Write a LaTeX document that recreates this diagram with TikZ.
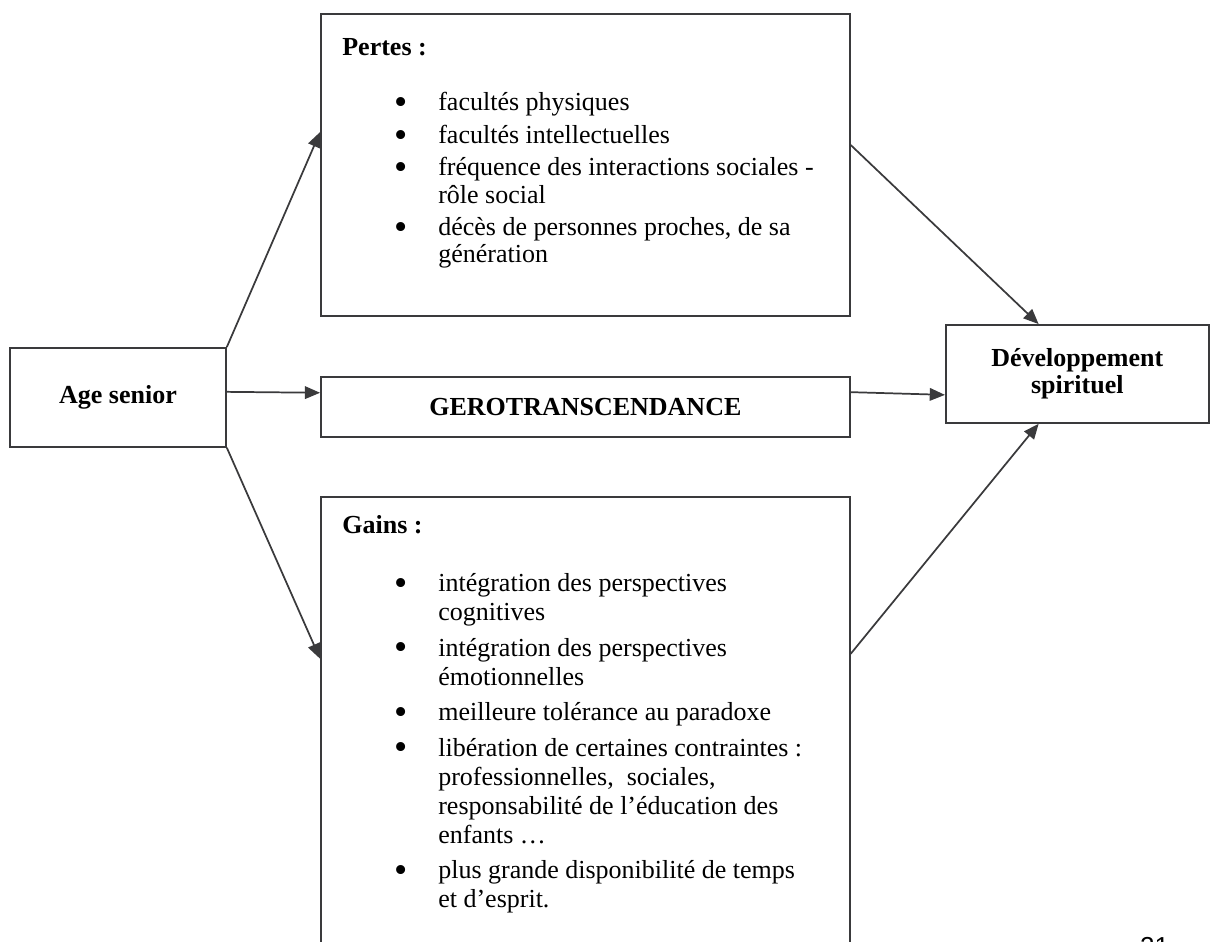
\documentclass[tikz,border=0pt]{standalone}
\usepackage{fontspec}
\usepackage{graphicx}
\setmainfont{Liberation Serif}
\newfontfamily\pagenumfont{Liberation Sans}
\usetikzlibrary{arrows.meta,calc}
\definecolor{linegray}{HTML}{3A3A3C}
\newcommand{\itm}{\makebox[1.557cm][l]{\hspace{0.84cm}\smash{\raisebox{-0.14em}{\scalebox{1.45}{\textbullet}}}}}
\newcommand{\cnt}{\hspace*{1.557cm}}
\tikzset{
  box/.style={draw=linegray,line width=0.8pt,rectangle,inner sep=0pt,align=center,font=\fontsize{12}{12.5}\selectfont\bfseries},
  lsttxt/.style={anchor=north west,inner sep=0pt,align=left,font=\fontsize{12}{12.6}\selectfont},
  arr/.style={-{Triangle[length=7pt,width=5.8pt]},line width=0.8pt,draw=linegray}
}

\begin{document}
\begin{tikzpicture}
  \useasboundingbox (0,0) rectangle (19.63,-15.28);

  \node[box, minimum width=3.504cm, minimum height=1.606cm] (age) at (1.914,-6.447) {Age senior};
  \node[box, minimum width=8.580cm, minimum height=4.899cm] (pertes) at (9.497,-2.676) {};
  \node[box, minimum width=8.580cm, minimum height=0.973cm] (gero) at (9.497,-6.602) {GEROTRANSCENDANCE};
  \node[box, minimum width=8.580cm, minimum height=7.510cm] (gains) at (9.497,-11.816) {};
  \node[box, minimum width=4.266cm, minimum height=1.589cm] (dev) at (17.477,-6.066) {Développement\\spirituel};

  \node[lsttxt] (pertestxt) at (5.547,-0.616) {\textbf{Pertes :}\\[13pt]
    \itm facultés physiques\\[2.4pt]
    \itm facultés intellectuelles\\[2.4pt]
    \itm fréquence des interactions sociales -\\
    \cnt rôle social\\[2.4pt]
    \itm décès de personnes proches, de sa\\
    \cnt génération};

  \node[lsttxt, font=\fontsize{12}{13.4}\selectfont] (gainstxt) at (5.547,-8.353) {\textbf{Gains :}\\[13.5pt]
    \itm intégration des perspectives\\
    \cnt cognitives\\[3pt]
    \itm intégration des perspectives\\
    \cnt émotionnelles\\[3pt]
    \itm meilleure tolérance au paradoxe\\[3pt]
    \itm libération de certaines contraintes :\\
    \cnt professionnelles,\ \ sociales,\\
    \cnt responsabilité de l’éducation des\\
    \cnt enfants …\\[3pt]
    \itm plus grande disponibilité de temps\\
    \cnt et d’esprit.};

  \node[anchor=north west, inner sep=0pt, font=\pagenumfont\fontsize{12}{14}\selectfont] (pagenum) at (18.49,-15.20) {21};

  \draw[arr] (age.north east) -- ($(pertes.north west)+(0,-1.93)$);
  \draw[arr] ($(age.east)+(0,0.09)$) -- ($(gero.west)+(0,0.23)$);
  \draw[arr] (age.south east) -- ($(gains.north west)+(0,-2.64)$);
  \draw[arr] ($(pertes.north east)+(0,-2.14)$) -- ($(dev.north west)+(1.52,0)$);
  \draw[arr] ($(gero.east)+(0,0.24)$) -- ($(dev.west)+(0,-0.34)$);
  \draw[arr] ($(gains.north east)+(0,-2.56)$) -- ($(dev.south west)+(1.52,0)$);
\end{tikzpicture}
\end{document}
